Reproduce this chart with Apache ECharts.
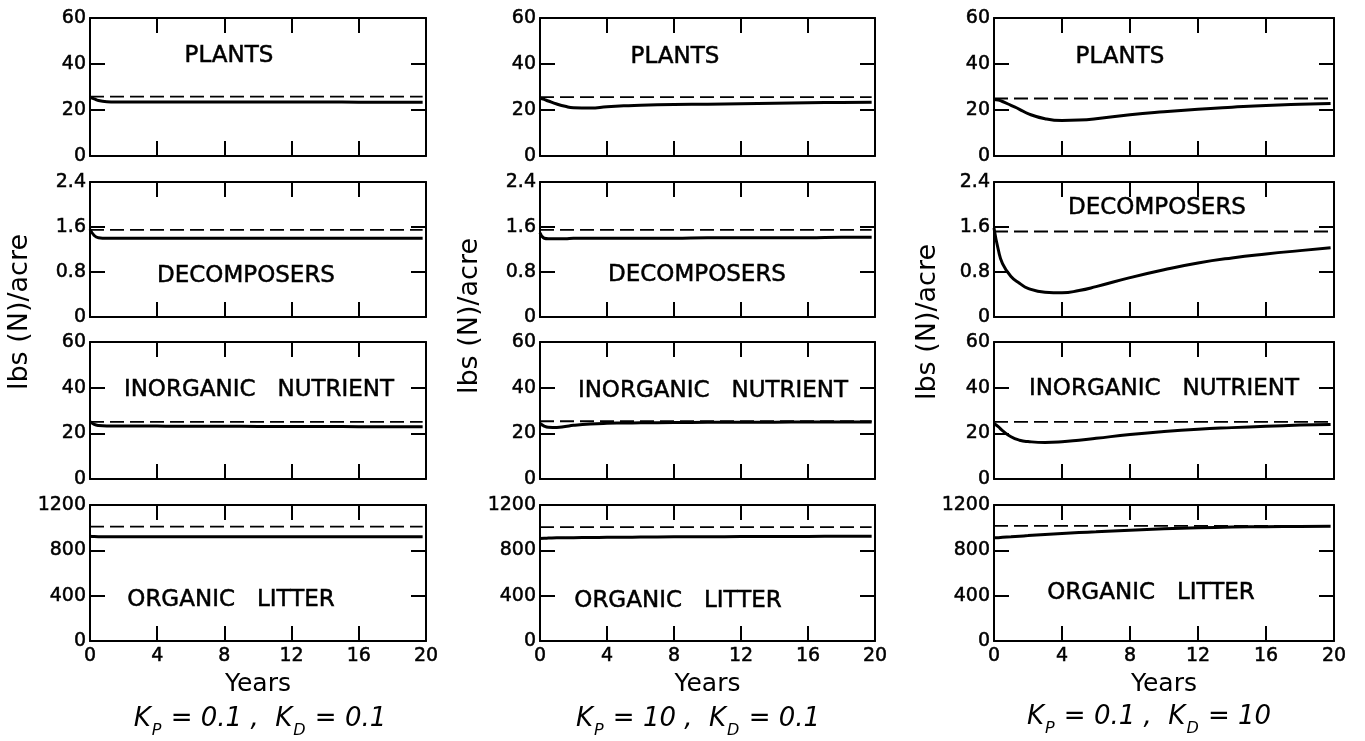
<!DOCTYPE html>
<html>
<head>
<meta charset="utf-8">
<script src="https://cdn.jsdelivr.net/npm/echarts@6/dist/echarts.min.js"></script>
<style>
  html, body { margin: 0; padding: 0; background: #fff; }
  #chart { width: 1365px; height: 741px; }
</style>
</head>
<body>
<div id="chart"></div>
<script>
// Simulation time points (years)
const years = [0, 0.25, 0.5, 1, 1.5, 2, 3, 4, 5, 6, 8, 10, 12, 14, 16, 18, 19.8];

// Compartment names, one per row
const compartments = ['PLANTS', 'DECOMPOSERS', 'INORGANIC   NUTRIENT', 'ORGANIC   LITTER'];

// y-axis ranges per row
const yMax = [60, 2.4, 60, 1200];
const yStep = [20, 0.8, 20, 400];

// x-axis range
const xMin = 0, xMax = 20, xStep = 4;

// Rate constants for each run
const kpValues = ['0.1', '10', '0.1'];
const kdValues = ['0.1', '0.1', '10'];

// Run 1: K_P = 0.1, K_D = 0.1
const plants1 = [25.5, 24.8, 24.1, 23.6, 23.5, 23.5, 23.5, 23.5, 23.5, 23.5, 23.5, 23.5, 23.5, 23.5, 23.4, 23.4, 23.4];
const decomp1 = [1.56, 1.45, 1.41, 1.40, 1.40, 1.40, 1.40, 1.40, 1.40, 1.40, 1.40, 1.40, 1.40, 1.40, 1.40, 1.40, 1.40];
const inorg1 = [25.2, 23.9, 23.4, 23.2, 23.2, 23.2, 23.2, 23.2, 23.1, 23.1, 23.1, 23.0, 23.0, 23.0, 22.9, 22.9, 22.9];
const litter1 = [925, 921, 920, 920, 920, 920, 920, 920, 920, 920, 920, 920, 920, 920, 920, 920, 920];
const equil1 = [25.8, 1.55, 25.0, 1010];

// Run 2: K_P = 10, K_D = 0.1
const plants2 = [25.2, 24.6, 23.9, 22.6, 21.6, 21.0, 20.9, 21.4, 21.8, 22.1, 22.4, 22.5, 22.7, 22.9, 23.1, 23.3, 23.4];
const decomp2 = [1.50, 1.40, 1.39, 1.39, 1.39, 1.40, 1.40, 1.40, 1.40, 1.40, 1.40, 1.41, 1.41, 1.41, 1.41, 1.42, 1.42];
const inorg2 = [24.3, 23.2, 22.7, 22.6, 23.0, 23.5, 24.1, 24.4, 24.5, 24.6, 24.7, 24.8, 24.9, 24.9, 25.0, 25.0, 25.0];
const litter2 = [905, 907, 908, 910, 911, 912, 913, 915, 916, 917, 919, 920, 921, 922, 923, 924, 925];
const equil2 = [25.6, 1.55, 25.3, 1005];

// Run 3: K_P = 0.1, K_D = 10
const plants3 = [24.6, 24.3, 23.7, 22.0, 20.3, 18.4, 16.2, 15.4, 15.6, 16.2, 17.9, 19.2, 20.3, 21.2, 22.0, 22.5, 22.8];
const decomp3 = [1.58, 1.20, 0.95, 0.72, 0.60, 0.51, 0.44, 0.43, 0.47, 0.54, 0.70, 0.84, 0.96, 1.05, 1.12, 1.18, 1.23];
const inorg3 = [24.3, 22.9, 21.2, 18.5, 17.0, 16.4, 16.0, 16.3, 17.0, 17.8, 19.5, 20.8, 21.8, 22.5, 23.1, 23.6, 23.9];
const litter3 = [911, 912, 915, 920, 925, 930, 940, 949, 957, 964, 978, 990, 999, 1005, 1009, 1011, 1012];
const equil3 = [25.0, 1.52, 25.0, 1015];

const runs = [
  { series: [plants1, decomp1, inorg1, litter1], equil: equil1 },
  { series: [plants2, decomp2, inorg2, litter2], equil: equil2 },
  { series: [plants3, decomp3, inorg3, litter3], equil: equil3 }
];

// ---- layout ----
const FONT = 'DejaVu Sans';
const colLeft = [90, 540, 994];
const colWidth = [336, 335, 340];
const rowTop = [18, 182, 342, 505];
const rowHeight = [138, 135, 137, 136];

// Compartment label centres, per column then row
const labelPos = [
  [[229, 56], [246, 276], [259, 390], [231, 600]],
  [[675, 57], [697, 275], [713, 391], [678, 601]],
  [[1120, 57], [1157, 208], [1164, 389], [1151, 593]]
];
const yTitlePos = [[20, 312], [470, 316], [928, 322]];
const caseTextPos = [[260, 722], [698, 722], [1149, 720]];

const grids = [], xAxes = [], yAxes = [], series = [], graphics = [];

function yFormat(row) {
  return function (v) {
    if (v === 0) return '0';
    return row === 1 ? v.toFixed(1) : String(Math.round(v));
  };
}

function tickStyle() {
  return { show: true, inside: true, length: 15, lineStyle: { color: '#000', width: 2 } };
}
function axisLineStyle() {
  return { show: true, onZero: false, lineStyle: { color: '#000', width: 2 } };
}
// slightly heavier glyphs for the printed look
const inkLabel = { color: '#000', fontFamily: FONT, textBorderColor: '#000', textBorderWidth: 0.5 };

for (let c = 0; c < 3; c++) {
  for (let r = 0; r < 4; r++) {
    const g = grids.length;
    grids.push({ left: colLeft[c], top: rowTop[r], width: colWidth[c], height: rowHeight[r], containLabel: false });

    const bottomRow = r === 3;
    // bottom x axis
    xAxes.push({
      type: 'value', gridIndex: g, position: 'bottom', min: xMin, max: xMax, interval: xStep,
      axisLine: axisLineStyle(), axisTick: tickStyle(), splitLine: { show: false },
      axisLabel: Object.assign({ show: bottomRow, margin: 6, fontSize: 19 }, inkLabel),
      name: bottomRow ? 'Years' : '', nameLocation: 'middle', nameGap: 31,
      nameTextStyle: { color: '#000', fontFamily: FONT, fontSize: 25 }
    });
    // top x axis (ticks only)
    xAxes.push({
      type: 'value', gridIndex: g, position: 'top', min: xMin, max: xMax, interval: xStep,
      axisLine: axisLineStyle(), axisTick: tickStyle(), splitLine: { show: false }, axisLabel: { show: false }
    });
    // left y axis
    yAxes.push({
      type: 'value', gridIndex: g, position: 'left', min: 0, max: yMax[r], interval: yStep[r],
      axisLine: axisLineStyle(), axisTick: tickStyle(), splitLine: { show: false },
      axisLabel: Object.assign({ show: true, showMinLabel: true, showMaxLabel: true, margin: 4,
                                 fontSize: 19, formatter: yFormat(r) }, inkLabel)
    });
    // right y axis (ticks only)
    yAxes.push({
      type: 'value', gridIndex: g, position: 'right', min: 0, max: yMax[r], interval: yStep[r],
      axisLine: axisLineStyle(), axisTick: tickStyle(), splitLine: { show: false }, axisLabel: { show: false }
    });

    const xi = g * 2, yi = g * 2;
    const vals = runs[c].series[r];
    const eq = runs[c].equil[r];

    // equilibrium level (dashed)
    series.push({
      type: 'line', xAxisIndex: xi, yAxisIndex: yi, showSymbol: false, silent: true, z: 2,
      data: [[xMin, eq], [years[years.length - 1], eq]],
      lineStyle: { color: '#000', width: 1.8, type: [14, 6] }
    });
    // trajectory (solid)
    series.push({
      type: 'line', xAxisIndex: xi, yAxisIndex: yi, showSymbol: false, silent: true, z: 3,
      smooth: 0.5,
      data: years.map((t, i) => [t, vals[i]]),
      lineStyle: { color: '#000', width: 3 }
    });

    // compartment label
    graphics.push({
      type: 'text', x: labelPos[c][r][0], y: labelPos[c][r][1], silent: true,
      style: { text: compartments[r], fill: '#000', stroke: '#000', lineWidth: 0.5, font: '23px "' + FONT + '"',
               align: 'center', verticalAlign: 'middle', textAlign: 'center', textVerticalAlign: 'middle' }
    });
  }

  // rotated y-axis title
  graphics.push({
    type: 'text', x: yTitlePos[c][0], y: yTitlePos[c][1], rotation: Math.PI / 2, silent: true,
    style: { text: 'lbs (N)/acre', fill: '#000', font: '27px "' + FONT + '"',
             align: 'center', verticalAlign: 'middle', textAlign: 'center', textVerticalAlign: 'middle' }
  });

  // run parameters
  graphics.push({
    type: 'text', x: caseTextPos[c][0], y: caseTextPos[c][1], silent: true,
    style: {
      text: '{i|K}{s|P}{i| = ' + kpValues[c] + ' ,  K}{s|D}{i| = ' + kdValues[c] + '}',
      rich: {
        i: { fontFamily: FONT, fontStyle: 'italic', fontSize: 26, lineHeight: 32, verticalAlign: 'top', fill: '#000', color: '#000' },
        s: { fontFamily: FONT, fontStyle: 'italic', fontSize: 16, lineHeight: 16, verticalAlign: 'top', padding: [17, 1, 0, 1], fill: '#000', color: '#000' }
      },
      align: 'center', verticalAlign: 'middle', textAlign: 'center', textVerticalAlign: 'middle'
    }
  });
}

const chart = echarts.init(document.getElementById('chart'), null, { renderer: 'canvas' });
chart.setOption({
  animation: false,
  backgroundColor: '#fff',
  grid: grids,
  xAxis: xAxes,
  yAxis: yAxes,
  series: series,
  graphic: graphics
});
</script>
</body>
</html>
